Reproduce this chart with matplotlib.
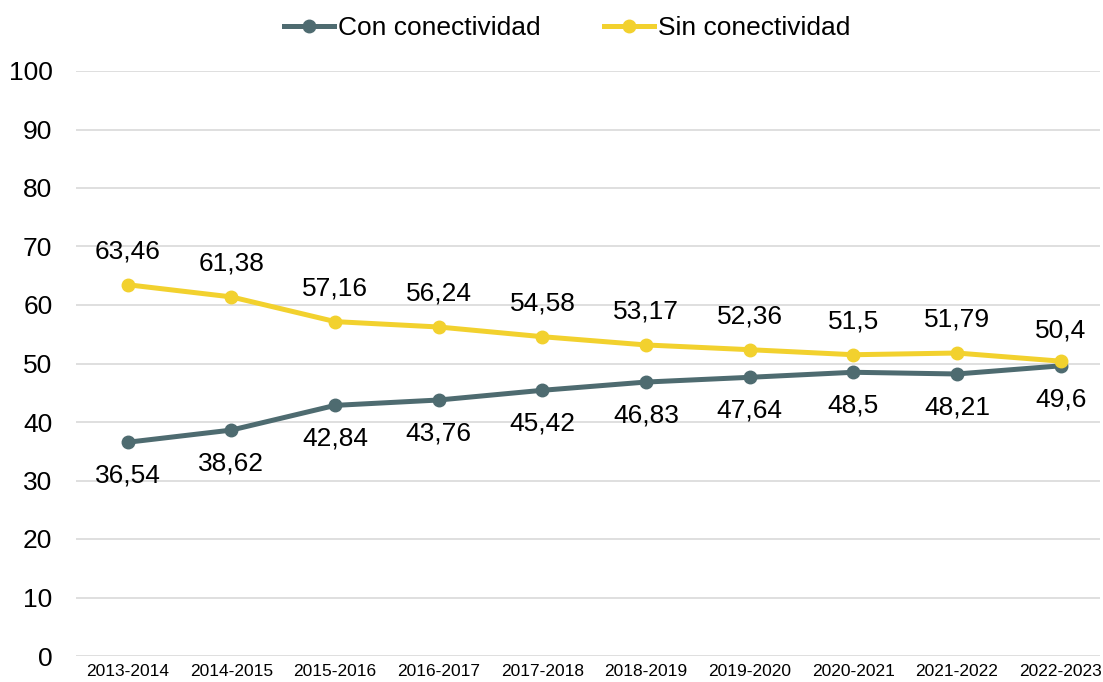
import matplotlib.pyplot as plt

plt.rcParams['font.family'] = ['Liberation Sans', 'DejaVu Sans']

years = ['2013-2014', '2014-2015', '2015-2016', '2016-2017', '2017-2018',
         '2018-2019', '2019-2020', '2020-2021', '2021-2022', '2022-2023']
con = [36.54, 38.62, 42.84, 43.76, 45.42, 46.83, 47.64, 48.5, 48.21, 49.6]
sin = [63.46, 61.38, 57.16, 56.24, 54.58, 53.17, 52.36, 51.5, 51.79, 50.4]

col_con = '#4E6B70'
col_sin = '#F2D12E'

fig = plt.figure(figsize=(11.03, 6.82), dpi=100)
ax = fig.add_axes([76/1103, 26/682, 1024/1103, 585/682])

x = range(len(years))
ax.plot(x, con, color=col_con, lw=3.6, marker='o', ms=9, label='Con conectividad', zorder=3)
ax.plot(x, sin, color=col_sin, lw=3.6, marker='o', ms=9, label='Sin conectividad', zorder=3)

def fmt(v):
    return ('%g' % v).replace('.', ',')

for i, v in enumerate(con):
    ax.annotate(fmt(v), (i, v), xytext=(0, -24), textcoords='offset points',
                ha='center', va='center', fontsize=19)
for i, v in enumerate(sin):
    ax.annotate(fmt(v), (i, v), xytext=(0, 24 if i < 9 else 22), textcoords='offset points',
                ha='center', va='center', fontsize=19)

ax.set_ylim(0, 100)
ax.set_yticks(range(0, 101, 10))
ax.set_xlim(-0.5, 9.38)
ax.set_xticks(list(x))
ax.set_xticklabels(years, fontsize=12.5)
ax.tick_params(axis='y', labelsize=19, length=0, pad=17)
ax.tick_params(axis='x', length=0, pad=6)
ax.grid(axis='y', color='#D9D9D9', lw=1.2)
ax.set_axisbelow(True)
for s in ax.spines.values():
    s.set_visible(False)

ax.legend(loc='center', bbox_to_anchor=(567/1103, 1 - 28/682), bbox_transform=fig.transFigure,
          ncol=2, frameon=False, fontsize=19, handlelength=1.9, columnspacing=2.4,
          handletextpad=0.15, borderaxespad=0, borderpad=0)

fig.savefig('out.png', dpi=100)
